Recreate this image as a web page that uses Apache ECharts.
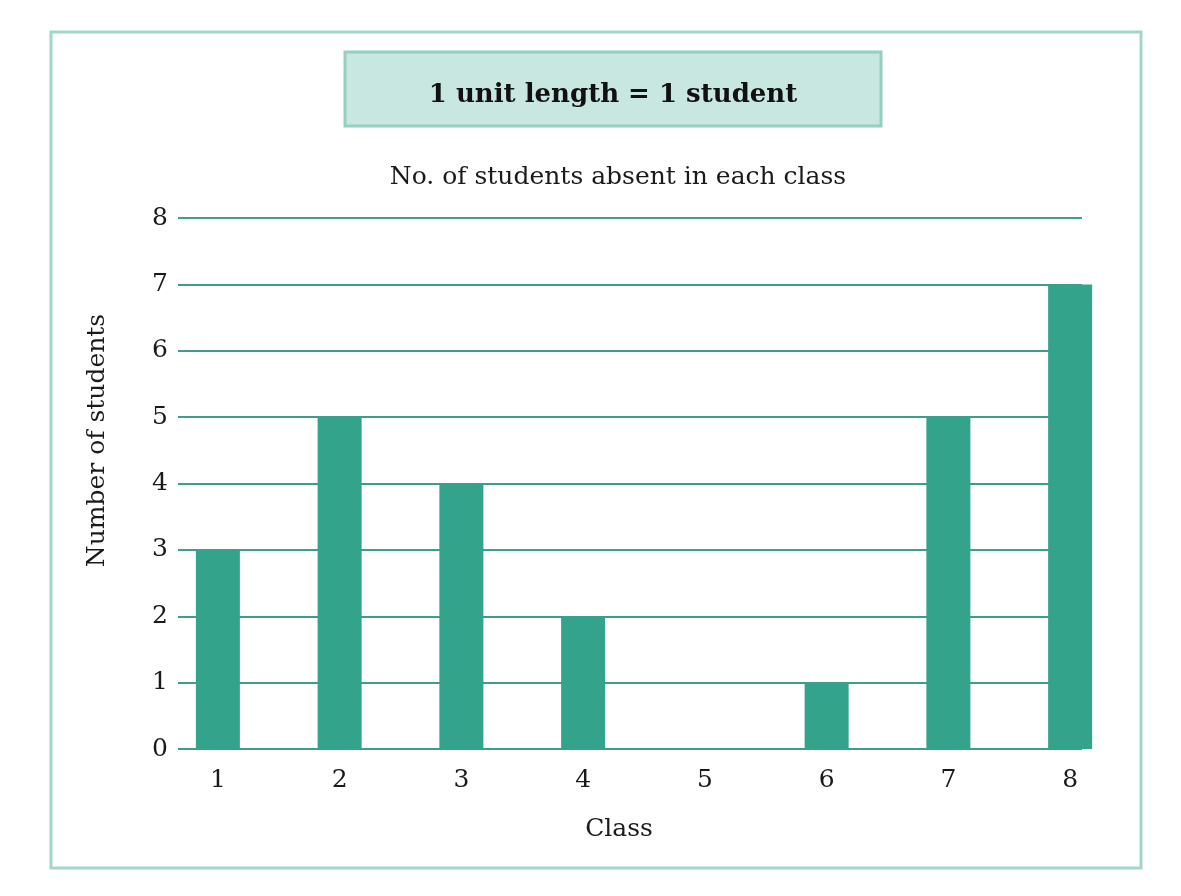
<!DOCTYPE html>
<html lang="en">
<head>
    <meta charset="UTF-8" />
    <title>Students absent</title>
    <script src="https://cdn.jsdelivr.net/npm/echarts@6.0.0/dist/echarts.min.js"></script>
    <style>
        html, body { margin: 0; padding: 0; background: #fff; }
        #lienzo { width: 1181px; height: 896px; }
    </style>
</head>
<body>
    <div id="lienzo"></div>
    <script>
        // data
        const classes = ['1', '2', '3', '4', '5', '6', '7', '8'];
        const absent = [3, 5, 4, 2, 0, 1, 5, 7];
        const yTicks = [0, 1, 2, 3, 4, 5, 6, 7, 8];

        const serif = '"DejaVu Serif", "Liberation Serif", serif';
        const teal = '#33a38b';
        const lineTeal = '#3c9f8b';

        let myChart = echarts.init(document.getElementById('lienzo'));

        myChart.setOption({
            backgroundColor: '#fff',
            animation: false,
            title: {
                text: 'No. of students absent in each class',
                left: 613,
                textAlign: 'center',
                top: 160,
                textStyle: { fontFamily: serif, fontWeight: 'normal', fontSize: 25, color: '#1a1a1a' }
            },
            graphic: [
                {
                    type: 'rect',
                    shape: { x: 51, y: 32, width: 1090, height: 836 },
                    style: { fill: 'none', stroke: '#a3d6ca', lineWidth: 3 }
                },
                {
                    type: 'rect',
                    shape: { x: 345, y: 52, width: 536, height: 74 },
                    style: { fill: '#c8e7e0', stroke: '#94cfc1', lineWidth: 3 }
                },
                {
                    type: 'text',
                    x: 613, y: 95,
                    style: {
                        text: '1 unit length = 1 student',
                        fontFamily: serif, fontWeight: 'bold', fontSize: 26,
                        fill: '#111', align: 'center', verticalAlign: 'middle'
                    }
                }
            ],
            grid: [
                { left: 178, right: 99, top: 218, bottom: 147 },
                { left: 157, right: 50, top: 218, bottom: 147 }
            ],
            xAxis: [
                {
                    type: 'value', gridIndex: 0, min: 0, max: 1,
                    show: false
                },
                {
                    type: 'category', gridIndex: 1, data: classes,
                    name: 'Class', nameLocation: 'center', nameGap: 68,
                    nameTextStyle: { fontFamily: serif, fontSize: 25, color: '#1a1a1a', padding: [0, 50, 0, 0] },
                    axisLine: { show: false },
                    axisTick: { show: false },
                    axisLabel: { fontFamily: serif, fontSize: 25, color: '#1a1a1a', margin: 19 }
                }
            ],
            yAxis: [
                {
                    type: 'value', gridIndex: 0, min: yTicks[0], max: yTicks[yTicks.length - 1], interval: 1,
                    name: 'Number of students', nameLocation: 'center', nameGap: 68,
                    nameTextStyle: { fontFamily: serif, fontSize: 25, color: '#1a1a1a', padding: [0, 0, 0, 86] },
                    axisLine: { show: false },
                    axisTick: { show: false },
                    axisLabel: { fontFamily: serif, fontSize: 25, color: '#1a1a1a', margin: 10 },
                    splitLine: { show: true, lineStyle: { color: lineTeal, width: 2 } }
                },
                {
                    type: 'value', gridIndex: 1, min: yTicks[0], max: yTicks[yTicks.length - 1], interval: 1,
                    show: false, splitLine: { show: false }
                }
            ],
            series: [
                {
                    name: 'Number of students',
                    type: 'bar',
                    xAxisIndex: 1,
                    yAxisIndex: 1,
                    data: absent,
                    barWidth: 44,
                    itemStyle: { color: teal }
                }
            ]
        });
    </script>
</body>
</html>
